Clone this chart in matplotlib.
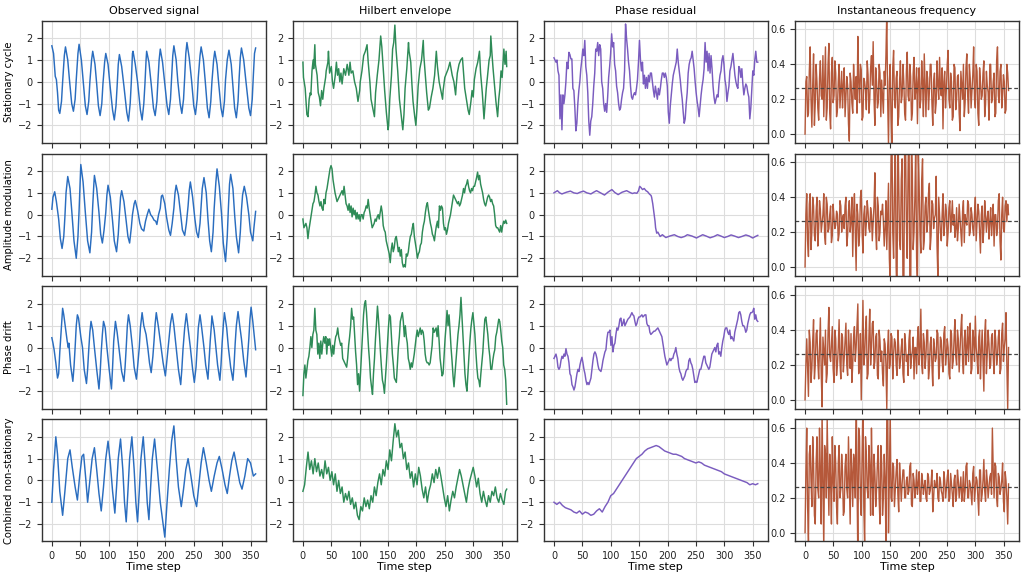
import numpy as np
import matplotlib
matplotlib.use("Agg")
import matplotlib.pyplot as plt

row_labels = ["Stationary cycle", "Amplitude modulation", "Phase drift", "Combined non-stationary"]
col_titles = ["Observed signal", "Hilbert envelope", "Phase residual", "Instantaneous frequency"]
x_ticks = [0, 50, 100, 150, 200, 250, 300, 350]
freq_ref = 0.262

# ---------- Observed signal (t, value) ----------
obs_stationary = [(0,1.65),(3,1.3),(6,0.25),(8,0.1),(10,-0.5),(12,-1.3),(14,-1.45),(17,-0.9),(19,0.0),(22,1.2),
    (24,1.6),(28,1.0),(31,0.1),(35,-1.0),(38,-1.35),(41,-0.8),(43,0.1),(46,1.3),
    (48,1.72),(52,1.0),(55,0.1),(59,-1.1),(62,-1.5),(65,-0.9),(67,0.0),(70,1.0),
    (72,1.4),(76,0.8),(79,-0.1),(82,-1.1),(85,-1.55),(88,-1.0),(90,-0.1),(93,0.9),
    (95,1.3),(99,0.8),(103,-0.3),(107,-1.3),(110,-1.75),(113,-1.1),(115,-0.2),(117,0.8),
    (119,1.25),(123,0.7),(127,-0.2),(132,-1.4),(135,-1.8),(138,-1.0),(140,0.0),(142,1.3),
    (143,1.4),(147,0.8),(151,0.0),(156,-1.3),(159,-1.75),(162,-1.0),(164,-0.1),(166,1.0),
    (167,1.4),(171,0.9),(175,-0.1),(179,-1.2),(182,-1.55),(185,-0.9),(187,0.1),(189,1.0),
    (191,1.5),(195,0.9),(199,-0.1),(203,-1.1),(206,-1.5),(209,-0.8),(211,0.2),(213,1.2),
    (215,1.65),(219,1.0),(222,0.0),(226,-1.0),(229,-1.45),(232,-0.8),(234,0.2),(236,1.3),
    (238,1.8),(242,1.1),(246,0.1),(250,-1.1),(253,-1.5),(256,-0.8),(258,0.2),(261,1.2),
    (263,1.6),(267,1.0),(270,0.1),(274,-1.2),(277,-1.65),(280,-0.9),(282,0.0),(285,1.0),
    (287,1.4),(291,0.8),(294,-0.1),(298,-1.2),(301,-1.6),(304,-0.9),(306,0.1),(309,1.0),
    (312,1.45),(316,0.8),(319,-0.2),(322,-1.2),(325,-1.65),(328,-0.9),(330,0.2),(332,1.1),
    (334,1.55),(338,1.0),(342,0.0),(347,-1.2),(350,-1.55),(353,-0.8),(355,0.3),(357,1.3),(359,1.55)]

obs_ampmod = [(0,0.25),(2,0.8),(5,1.05),(8,0.6),(10,0.2),(12,-0.2),(15,-1.1),(18,-1.55),(21,-1.0),(23,-0.1),(25,1.0),(28,1.75),
    (32,1.2),(35,0.2),(39,-1.2),(43,-2.0),(46,-1.0),(48,0.2),(50,1.6),(51,2.3),
    (55,1.5),(59,0.1),(63,-1.2),(67,-1.75),(70,-0.8),(72,0.4),(74,1.4),(75,1.8),
    (79,1.2),(83,0.1),(86,-0.9),(89,-1.3),(92,-0.7),(95,0.1),(97,0.9),(99,1.35),
    (103,0.8),(107,-0.3),(110,-1.2),(114,-1.7),(117,-0.9),(119,0.0),(121,0.8),(123,1.1),
    (127,0.6),(131,-0.3),(134,-1.0),(137,-1.3),(140,-0.6),(142,0.0),(145,0.5),(147,0.65),
    (151,0.2),(155,-0.4),(158,-0.65),(162,-0.75),(165,-0.3),(168,0.0),(171,0.25),
    (174,0.0),(177,-0.1),(180,-0.25),(183,-0.3),(185,-0.45),(188,0.0),(191,0.3),(193,0.85),(195,0.9),
    (199,0.5),(202,-0.1),(206,-0.7),(209,-0.95),(212,-0.4),(215,0.3),(217,1.0),(219,1.35),
    (223,0.9),(227,0.0),(230,-0.7),(234,-0.95),(237,-0.4),(240,0.4),(242,1.1),(244,1.5),
    (248,0.8),(252,-0.2),(255,-0.8),(258,-1.05),(261,-0.4),(263,0.4),(265,1.2),(268,1.7),
    (272,1.0),(275,-0.2),(278,-1.2),(281,-1.7),(284,-0.8),(286,0.3),(289,1.5),(291,2.1),
    (295,1.3),(299,0.0),(302,-1.3),(306,-2.15),(309,-1.0),(311,0.3),(313,1.4),(315,1.85),
    (319,1.2),(322,0.0),(325,-1.0),(329,-1.75),(332,-0.8),(334,0.2),(336,0.9),(339,1.3),
    (343,0.8),(347,0.0),(350,-0.8),(354,-1.2),(356,-0.6),(359,0.15)]

obs_drift = [(0,0.45),(2,0.2),(4,-0.1),(7,-0.7),(10,-1.4),(12,-1.2),(14,-0.2),(17,1.0),(19,1.8),(21,1.5),(24,0.9),
    (27,0.3),(29,0.0),(30,0.2),(33,-0.8),(37,-1.55),(39,-0.9),(41,0.0),(43,1.0),(45,1.5),(47,1.35),(51,0.5),
    (54,0.0),(57,-1.0),(61,-1.65),(63,-1.0),(65,-0.1),(67,0.7),(69,1.2),(72,0.8),(75,0.0),(79,-1.0),(83,-1.9),
    (85,-1.2),(87,-0.2),(89,0.6),(91,1.2),(94,0.9),(97,0.0),(99,-0.5),(101,-1.0),(105,-1.9),(107,-0.9),(109,0.3),
    (112,1.2),(115,0.7),(119,-0.2),(123,-1.1),(127,-1.55),(129,-0.9),(131,0.0),(133,1.0),(135,1.5),(138,1.0),
    (142,0.0),(145,-0.9),(149,-1.45),(151,-0.9),(154,0.0),(156,0.9),(159,1.6),(162,1.0),(166,0.6),(169,0.0),
    (172,-0.7),(175,-1.15),(178,-0.4),(180,0.3),(182,1.1),(184,1.6),(188,0.9),(192,0.1),(196,-0.7),(200,-1.3),
    (203,-0.5),(206,0.3),(209,1.1),(212,1.55),(215,1.0),(219,0.0),(223,-1.0),(227,-1.7),(229,-1.0),(231,-0.1),
    (234,0.9),(237,1.55),(240,0.9),(244,0.0),(248,-1.0),(251,-1.6),(254,-0.9),(256,0.0),(258,0.9),(261,1.5),
    (264,0.9),(268,0.0),(271,-0.8),(275,-1.45),(277,-0.6),(279,0.3),(281,1.0),(282,1.45),(286,0.8),(289,0.0),
    (292,-0.8),(296,-1.5),(298,-0.8),(300,0.2),(302,1.0),(304,1.6),(308,0.9),(311,0.0),(315,-0.9),(319,-1.5),
    (321,-0.8),(323,0.2),(325,1.0),(328,1.65),(331,1.0),(334,0.4),(338,-0.6),(342,-1.35),(344,-0.7),(347,0.4),
    (349,1.3),(351,1.85),(354,1.2),(357,0.4),(359,-0.1)]

obs_combined = [(0,-1.0),(3,0.5),(7,2.0),(10,1.2),(14,-0.5),(19,-1.6),(23,-0.5),(28,1.0),(32,1.4),(36,0.6),(41,-0.3),
    (45,-0.9),(49,0.2),(53,1.1),(56,1.2),(60,0.0),(63,-1.0),(67,0.0),(71,1.0),(75,1.5),(79,0.5),(83,-0.6),(87,-1.4),
    (91,-0.3),(95,1.0),(99,1.8),(103,0.8),(107,-0.5),(111,-1.5),(114,-0.3),(117,1.0),(121,1.9),(125,0.5),(128,-1.0),
    (131,-1.9),(134,-0.5),(137,1.0),(141,2.0),(145,0.5),(148,-1.0),(151,-1.9),(154,-0.5),(157,1.0),(161,2.0),(165,0.5),
    (168,-1.0),(171,-1.8),(174,-0.3),(177,1.0),(181,1.9),(186,0.5),(191,-1.0),(196,-2.0),(199,-2.6),(203,-1.0),
    (207,0.5),(211,1.8),(215,2.5),(219,1.0),(223,-0.3),(228,-1.2),(232,-0.4),(236,0.5),(240,1.0),(245,0.2),(250,-0.7),
    (255,-1.2),(259,-0.2),(263,0.8),(267,1.5),(272,0.8),(277,0.0),(281,-0.5),(286,0.2),(291,0.8),(295,1.1),(300,0.5),
    (305,-0.2),(309,-0.6),(313,0.2),(317,0.9),(321,1.3),(326,0.6),(331,-0.1),(335,-0.4),(340,0.2),(345,1.0),(350,0.8),
    (355,0.2),(359,0.3)]

# ---------- Hilbert envelope ----------
hil_stationary = [(0,0.9),(1,0.2),(4,-0.3),(7,-1.5),(9,-1.6),(11,-0.8),(13,-0.5),(14,-0.6),(16,0.5),(18,1.0),(19,0.6),
    (21,1.7),(22,0.8),(25,0.3),(27,-0.5),(29,-0.7),(31,-1.1),(33,-0.4),(35,-0.8),(37,-0.3),(40,0.2),(41,0.5),(44,0.9),
    (45,1.4),(47,0.4),(50,0.7),(52,0.0),(54,-0.3),(57,0.3),(59,0.9),(61,0.3),(63,0.6),(65,0.0),(67,0.4),(69,-0.1),
    (72,0.6),(75,0.3),(78,0.8),(81,0.3),(83,0.9),(85,0.4),(88,0.5),(91,0.0),(94,-0.3),(97,-0.9),(100,-0.4),(101,0.0),
    (104,0.5),(107,1.2),(110,1.4),(113,1.7),(115,0.9),(118,0.0),(120,-0.8),(123,-1.2),(126,-1.6),(128,-0.5),(131,0.3),
    (134,1.0),(137,2.1),(139,1.6),(141,0.8),(144,-0.4),(147,-1.4),(150,-2.2),(151,-2.0),(153,-0.8),(156,0.3),(158,1.5),
    (160,1.8),(162,2.6),(164,1.5),(167,0.5),(170,-0.8),(173,-1.5),(176,-2.2),(178,-1.5),(180,-0.3),(183,0.6),(186,1.8),
    (187,1.4),(190,0.9),(192,-0.1),(194,-0.9),(197,-1.6),(199,-2.0),(201,-1.2),(203,-0.2),(206,0.6),(209,1.0),(212,1.9),
    (213,1.2),(216,0.2),(218,-0.5),(221,-1.3),(223,-1.2),(226,-0.7),(229,-0.3),(232,0.3),(235,1.4),(237,0.7),(240,0.0),
    (243,-0.4),(246,-0.8),(247,-0.4),(250,0.2),(253,0.4),(256,0.6),(259,0.9),(261,0.6),(263,0.3),(266,0.0),(269,-0.6),
    (270,-0.2),(272,0.4),(275,0.8),(278,1.0),(281,1.1),(283,0.4),(285,-0.3),(288,-0.8),(291,-1.3),(293,-1.5),(296,-0.9),
    (298,-0.4),(300,-0.7),(302,0.1),(305,0.6),(308,0.9),(311,1.4),(313,0.4),(316,-0.5),(319,-1.7),(321,-1.0),(323,-0.3),
    (325,0.2),(328,1.0),(330,1.2),(331,2.1),(333,1.3),(335,0.6),(338,-0.3),(340,-0.9),(343,-1.6),(345,-0.8),(347,-0.3),
    (349,0.5),(351,0.2),(354,1.5),(356,0.8),(358,1.4),(359,0.7)]

hil_ampmod = [-0.2,-0.6,-0.5,-0.4,-0.6,-1.1,-0.7,-0.4,-0.1,0.2,0.5,0.6,0.9,1.3,1.0,0.9,0.6,0.4,0.6,0.3,0.2,0.7,0.5,1.0,
    1.2,1.5,1.8,2.1,2.25,2.1,1.6,1.3,1.0,0.8,0.6,0.7,0.8,0.9,1.0,1.1,0.9,1.3,0.9,0.5,0.4,0.2,0.5,0.1,0.4,-0.1,0.3,0.0,
    0.2,-0.2,0.1,-0.2,0.0,-0.3,0.0,0.0,-0.2,0.1,0.2,0.4,0.3,0.7,0.3,0.0,-0.3,-0.6,-0.5,-0.4,-0.2,-0.3,-0.1,0.0,-0.2,0.1,
    0.4,0.1,-0.5,-0.7,-0.8,-1.2,-1.4,-1.6,-1.8,-2.2,-1.6,-1.3,-1.7,-1.5,-1.1,-1.0,-1.3,-1.7,-1.5,-1.9,-1.6,-2.2,-2.4,
    -2.3,-2.4,-1.8,-1.9,-1.7,-1.3,-1.0,-0.9,-0.6,-0.4,-1.0,-1.3,-1.6,-2.0,-1.8,-1.7,-1.4,-1.3,-0.8,-0.5,-0.3,0.1,0.4,
    0.55,0.2,-0.1,-0.4,-0.6,-0.9,-1.0,-1.2,-0.8,-0.5,-0.3,-0.6,0.4,0.2,0.4,0.3,-0.4,-0.7,-0.6,-0.9,-0.7,-0.4,-0.2,0.0,
    0.3,0.6,0.9,0.8,0.7,0.6,0.5,0.6,0.4,0.5,0.7,0.9,1.2,1.0,1.3,1.4,1.6,1.3,1.1,1.0,1.2,1.1,1.3,1.3,1.5,1.7,1.95,1.6,
    1.8,1.4,1.2,1.0,0.7,0.5,0.4,0.6,0.8,0.9,0.8,0.6,0.7,0.5,0.4,0.0,-0.5,-0.6,-0.6,-0.7,-0.8,-0.5,-0.8,-0.5,-0.3,-0.4,
    -0.25,-0.4]

hil_drift = [-2.2,-1.2,-0.8,-1.4,-1.0,-0.6,-0.4,0.0,0.5,0.0,0.6,0.8,1.8,0.8,0.6,-0.3,0.2,-0.5,0.3,-0.3,0.2,0.5,0.2,0.5,
    -0.3,0.4,0.1,0.4,0.0,-0.4,0.1,-0.3,0.2,0.5,0.6,0.9,0.5,0.3,0.1,0.2,-0.5,-0.6,-0.7,-0.8,-0.9,-0.5,0.1,0.5,1.0,1.8,
    1.3,1.4,0.6,-0.2,-0.8,-1.7,-1.2,-2.0,-1.1,-0.3,0.6,1.5,2.0,2.15,1.6,0.8,0.0,-0.6,-1.4,-1.8,-2.15,-1.2,-0.5,0.4,1.1,
    1.9,1.3,0.6,-0.2,-0.9,-1.5,-1.7,-2.1,-1.4,-0.7,0.1,0.9,1.5,1.4,0.5,-0.3,-0.8,-1.4,-1.5,-1.6,-0.8,0.0,0.5,1.2,1.4,
    1.6,1.2,0.5,1.0,0.5,0.2,-0.5,-0.7,-1.0,-0.7,-0.9,-0.6,-0.3,0.1,0.5,0.8,0.5,0.7,0.9,0.6,0.8,0.7,0.3,-0.3,-0.6,-0.7,
    -0.7,-0.8,-0.7,-0.3,0.1,0.9,0.7,0.8,0.9,0.5,1.0,0.3,-0.5,-0.9,-1.3,-1.2,-0.4,0.4,1.0,1.7,1.0,1.5,0.8,0.0,-0.6,-1.3,
    -1.8,-1.2,-0.6,0.0,0.6,1.0,1.5,2.3,1.4,0.6,-0.4,-1.2,-1.7,-2.0,-1.2,-0.4,0.3,0.9,1.3,1.6,1.1,0.6,-0.2,-0.9,-1.4,
    -1.5,-1.8,-1.2,-0.7,-0.2,0.6,1.3,1.4,1.0,0.6,0.0,-0.4,-1.0,-1.0,-0.6,-0.3,-0.1,0.5,0.7,1.0,1.3,1.2,0.8,0.3,0.0,
    -0.8,-1.0,-1.5,-2.6]

hil_combined = [(0,-0.5),(3,-0.2),(6,0.6),(9,1.3),(12,0.5),(15,0.9),(18,0.3),(21,1.0),(24,0.4),(27,0.8),(30,0.2),(33,0.5),
    (36,0.1),(39,0.9),(42,0.3),(45,0.6),(48,0.0),(51,0.4),(54,-0.2),(57,0.3),(60,-0.5),(63,0.0),(66,-0.6),(69,-0.3),
    (72,-1.0),(75,-0.6),(78,-0.9),(81,-0.5),(84,-1.1),(87,-0.8),(90,-1.3),(93,-1.0),(96,-1.6),(99,-1.8),(102,-1.2),
    (105,-1.4),(108,-0.8),(111,-1.2),(114,-0.9),(117,-1.3),(120,-0.7),(123,-1.0),(126,-0.3),(129,-0.7),(132,-0.1),
    (135,0.3),(138,-0.2),(141,0.5),(144,0.2),(147,0.9),(150,0.5),(153,1.4),(156,0.9),(159,1.8),(162,2.6),(165,2.0),
    (168,2.3),(171,1.5),(174,1.7),(177,1.0),(180,1.3),(183,0.5),(186,0.8),(189,0.1),(192,0.4),(195,-0.3),(198,0.3),
    (201,-0.2),(204,0.6),(207,0.2),(210,-0.4),(213,-0.8),(216,-0.3),(219,-1.0),(222,-0.5),(225,-0.2),(228,0.3),
    (231,-0.1),(234,0.5),(237,0.1),(240,0.6),(243,0.2),(246,-0.3),(249,-0.8),(252,-1.2),(255,-0.7),(258,-1.4),
    (261,-0.9),(264,-0.5),(267,-0.8),(270,-0.3),(273,0.1),(276,0.5),(279,0.2),(282,-0.2),(285,-0.6),(288,-1.0),
    (291,-0.4),(294,0.0),(297,0.3),(300,0.6),(303,0.2),(306,-0.3),(309,0.1),(312,-0.6),(315,-1.0),(318,-0.5),
    (321,-0.9),(324,-1.2),(327,-0.7),(330,-1.0),(333,-0.5),(336,-0.7),(339,-0.3),(342,-0.8),(345,-1.0),(348,-0.6),
    (351,-0.9),(354,-1.1),(357,-0.5),(359,-0.4)]

# ---------- Phase residual ----------
pr_stationary = [1.1,1.0,0.9,1.0,0.5,0.3,-1.7,-0.6,-2.2,-0.6,-1.0,-0.6,0.0,0.9,0.6,1.35,1.25,1.05,1.05,-0.3,-0.4,-1.2,
    -2.25,-1.9,-1.0,-0.4,0.0,0.6,1.0,1.5,1.2,1.9,0.7,0.3,-0.5,-1.8,-2.45,-1.8,-1.6,-1.0,-0.2,0.4,1.5,1.4,1.8,1.2,1.7,
    1.5,0.0,-0.3,-1.0,-1.35,-1.0,-1.4,-0.7,0.2,0.7,1.3,2.2,1.6,1.8,0.8,0.5,-0.2,-0.5,-1.0,-1.3,-1.2,-0.8,-0.5,-0.3,0.5,
    2.65,2.0,1.5,0.9,0.5,-0.2,-0.7,-0.8,-0.6,-0.5,-0.6,-0.3,0.1,0.9,1.9,1.0,0.5,0.9,-0.1,0.3,-0.3,0.2,-0.3,0.3,0.0,0.4,
    0.4,0.0,-0.4,-0.7,-0.2,-0.5,-0.8,-0.3,-0.6,-0.3,0.1,0.4,0.4,0.2,0.4,0.2,-0.2,-1.4,-1.9,-1.1,-0.6,-0.1,0.3,0.5,0.7,
    0.9,1.5,0.9,0.5,0.1,-0.4,-0.8,-1.4,-1.9,-1.7,-1.0,-0.5,0.4,0.8,1.0,1.1,1.4,1.0,0.6,0.0,-0.5,-0.9,-1.2,-1.6,-1.1,
    -0.6,-0.2,0.1,0.6,1.8,0.9,1.4,0.5,1.3,0.4,1.2,0.6,-0.2,-0.7,-1.0,-0.8,-0.6,-0.7,-0.1,0.3,0.5,1.0,1.2,0.8,0.1,-0.2,
    -0.9,-0.5,-0.2,0.5,0.7,1.0,1.3,0.8,0.3,0.0,-0.2,-0.3,0.7,0.6,0.2,0.6,-0.1,-0.6,-0.3,-0.1,-0.2,-0.5,-0.7,-1.7,-1.2,
    -0.3,0.5,0.3,1.0,1.4,0.9,0.9]

pr_ampmod = [(0,1.0),(6,1.1),(10,1.0),(14,0.95),(22,1.03),(29,1.08),(35,1.0),(41,0.97),(46,1.03),(52,1.08),(58,1.0),
    (65,0.95),(70,1.03),(75,1.1),(82,1.0),(89,0.9),(95,1.03),(102,1.15),(107,1.02),(113,0.92),(120,1.03),(128,1.1),
    (133,1.03),(138,0.97),(142,1.0),(146,0.98),(149,1.1),(151,1.3),(153,1.25),(156,1.15),(159,1.2),(162,1.1),(165,1.05),
    (168,0.95),(171,0.88),(172,0.8),(174,0.5),(176,0.1),(178,-0.3),(179,-0.6),(181,-0.85),(183,-0.8),(185,-0.9),
    (187,-1.0),(191,-0.92),(197,-1.05),(204,-0.98),(212,-0.92),(218,-1.0),(224,-1.05),(230,-1.0),(235,-0.92),
    (243,-0.98),(251,-1.07),(256,-1.0),(262,-0.92),(268,-0.98),(275,-1.06),(282,-1.0),(288,-0.92),(294,-0.98),
    (300,-1.05),(306,-1.0),(312,-0.93),(318,-0.98),(325,-1.05),(331,-1.0),(338,-0.93),(344,-0.98),(350,-1.07),
    (355,-1.0),(359,-0.95)]

pr_drift = [-0.5,-0.4,-0.3,-0.5,-0.9,-1.0,-0.9,-0.6,-0.4,-0.5,-0.3,-0.4,-0.05,-0.3,-0.4,-0.7,-1.2,-1.3,-1.7,-1.8,-1.95,
    -1.8,-1.5,-1.2,-1.0,-1.1,-0.8,-0.6,-0.45,-0.7,-1.0,-1.2,-1.5,-1.7,-1.6,-1.7,-1.55,-1.4,-1.0,-0.6,-0.3,-0.2,-0.3,
    -0.5,-0.8,-1.0,-1.05,-1.1,-0.9,-0.6,-0.4,-0.2,-0.1,0.4,0.7,0.7,0.8,0.1,0.5,-0.2,0.1,0.2,0.6,0.9,0.8,1.0,1.3,1.35,
    1.0,1.1,1.3,1.0,1.1,1.2,1.3,1.35,1.4,1.5,1.6,1.5,1.45,1.2,1.0,1.1,1.3,1.4,1.4,1.45,1.5,1.4,1.45,1.5,1.5,1.1,1.0,
    1.0,0.7,0.6,0.65,0.7,0.75,0.75,0.8,0.85,0.9,0.8,0.7,0.6,0.5,0.2,-0.1,-0.4,-0.6,-0.8,-0.7,-0.6,-0.5,-0.6,-0.5,-0.5,
    -0.3,-0.2,0.0,-0.3,-0.5,-0.9,-1.1,-1.2,-1.4,-1.5,-1.4,-1.3,-1.1,-1.0,-1.0,-0.6,-0.5,-0.7,-0.8,-1.0,-1.3,-1.6,-1.55,
    -1.6,-1.4,-1.2,-1.0,-1.0,-0.8,-0.6,-0.4,-0.4,-0.7,-0.8,-0.9,-1.0,-0.9,-0.6,-0.3,-0.2,-0.1,0.0,-0.2,0.1,0.2,-0.3,
    -0.2,-0.4,0.0,0.3,0.5,0.8,0.9,0.9,0.7,0.6,0.8,0.4,0.5,0.4,0.3,0.7,0.9,1.1,1.3,1.6,1.65,1.5,1.2,1.0,1.0,0.9,0.7,0.8,
    1.1,1.3,1.5,1.6,1.6,1.65,1.8,1.3,1.5,1.25,1.2]

pr_combined = [(0,-1.0),(5,-1.1),(10,-1.0),(15,-1.15),(20,-1.25),(25,-1.3),(30,-1.35),(35,-1.45),(40,-1.5),(45,-1.4),
    (50,-1.55),(55,-1.45),(60,-1.5),(65,-1.6),(70,-1.55),(75,-1.4),(80,-1.3),(85,-1.45),(90,-1.2),(95,-1.0),(100,-0.7),
    (105,-0.6),(110,-0.4),(115,-0.2),(120,0.0),(125,0.2),(130,0.4),(135,0.6),(140,0.8),(145,1.0),(150,1.1),(155,1.2),
    (160,1.35),(165,1.45),(170,1.5),(175,1.55),(180,1.6),(185,1.55),(190,1.45),(195,1.35),(200,1.3),(205,1.25),
    (210,1.2),(215,1.2),(220,1.15),(225,1.1),(230,1.0),(235,0.95),(240,0.9),(245,0.85),(250,0.8),(255,0.85),(260,0.8),
    (265,0.7),(270,0.65),(275,0.6),(280,0.55),(285,0.5),(290,0.45),(295,0.4),(300,0.3),(305,0.25),(310,0.2),(315,0.15),
    (320,0.1),(325,0.05),(330,0.0),(335,-0.05),(340,-0.1),(345,-0.2),(350,-0.15),(355,-0.2),(359,-0.15)]

# ---------- Instantaneous frequency: readings at t = 0, 3, 6, ... (a) and t = 1.5, 4.5, ... (b) ----------
if_stationary = [0.00,0.33,0.12,0.50,0.04,0.46,0.18,0.30,0.08,0.42,
    0.20,0.10,0.50,0.15,0.52,0.03,0.44,0.22,0.35,0.14,
    0.40,0.25,0.15,0.38,0.21,0.28,-0.04,0.30,0.12,0.27,
    0.33,0.56,0.18,0.37,0.10,0.30,0.14,0.34,0.20,0.45,
    0.53,0.05,0.30,0.18,0.35,0.31,0.12,0.28,0.70,-0.06,
    0.40,-0.08,0.48,0.15,0.36,0.10,0.42,0.22,0.30,0.08,
    0.47,0.19,0.33,0.12,0.44,0.25,0.06,0.38,0.20,0.30,
    0.46,0.10,0.32,0.24,0.40,0.05,0.35,0.18,0.28,0.44,
    0.22,0.03,0.36,0.26,0.48,0.15,0.30,0.10,0.38,0.20,
    0.34,0.02,0.28,0.40,0.18,0.46,0.12,0.32,0.25,0.50,
    0.15,0.36,0.05,0.30,0.22,0.42,0.17,0.28,0.08,0.40,
    0.20,0.35,0.12,0.50,0.18,0.40,0.22,0.30,0.14,0.35]
if_stationary_b = [0.30,0.10,0.36,0.20,0.28,0.05,0.40,0.15,0.32,0.22,
    0.45,0.30,0.08,0.40,0.12,0.35,0.18,0.42,0.10,0.30,
    0.15,0.36,0.28,0.10,0.33,0.06,0.35,0.18,0.40,0.20,
    0.12,0.30,0.40,0.08,0.32,0.25,0.42,0.12,0.38,0.28,
    0.20,0.38,0.15,0.40,0.10,0.22,0.36,0.45,0.20,0.30,
    0.10,0.38,0.20,0.32,0.05,0.30,0.18,0.40,0.12,0.36,
    0.22,0.40,0.08,0.35,0.20,0.38,0.30,0.15,0.42,0.10,
    0.28,0.36,0.14,0.40,0.18,0.30,0.12,0.42,0.20,0.26,
    0.38,0.30,0.15,0.40,0.20,0.35,0.08,0.40,0.14,0.33,
    0.12,0.36,0.20,0.10,0.38,0.22,0.40,0.15,0.34,0.20,
    0.40,0.12,0.38,0.20,0.35,0.10,0.36,0.24,0.40,0.18,
    0.30,0.10,0.42,0.22,0.36,0.15,0.34,0.12,0.40,0.25]

if_ampmod = [0.00,0.42,0.06,0.42,0.20,0.35,0.15,0.40,0.22,0.33,
    0.25,0.42,0.13,0.36,0.22,0.35,0.18,0.28,0.24,0.30,
    0.19,0.35,0.28,0.22,0.40,0.18,0.38,0.26,0.06,0.42,
    -0.02,0.30,0.18,0.44,0.08,0.35,0.25,0.32,0.20,0.30,
    0.26,0.54,0.10,0.35,0.20,0.30,0.26,0.22,0.10,0.48,
    -0.10,0.80,0.05,0.70,-0.20,0.48,0.10,0.62,-0.15,0.75,
    0.05,0.90,-0.25,0.55,0.20,0.72,-0.10,0.46,0.08,0.62,
    0.15,0.40,0.25,0.48,0.18,0.36,0.28,0.52,-0.06,0.30,
    0.15,0.42,0.24,0.32,0.20,0.38,0.28,0.24,0.17,0.34,
    0.22,0.28,0.12,0.38,0.30,0.24,0.36,0.20,0.30,0.18,
    0.40,0.25,0.32,0.08,0.35,0.22,0.30,0.28,0.16,0.34,
    0.26,0.12,0.30,0.22,0.42,0.04,0.40,0.20,0.38,0.36]
if_ampmod_b = [0.30,0.15,0.36,0.10,0.40,0.18,0.32,0.12,0.38,0.20,
    0.30,0.18,0.40,0.20,0.30,0.14,0.36,0.22,0.32,0.15,
    0.38,0.20,0.30,0.35,0.12,0.32,0.20,0.40,0.30,0.20,
    0.36,0.12,0.40,0.20,0.30,0.18,0.38,0.22,0.34,0.15,
    0.35,0.20,0.40,0.15,0.32,0.36,0.12,0.38,0.30,0.05,
    0.60,0.20,0.45,0.00,0.85,0.15,0.50,-0.10,0.70,0.25,
    0.55,-0.05,0.75,0.10,0.40,0.05,0.65,0.20,0.50,0.10,
    0.35,0.20,0.42,0.10,0.38,0.22,0.30,0.12,0.40,0.20,
    0.30,0.18,0.36,0.12,0.34,0.20,0.38,0.30,0.22,0.15,
    0.36,0.20,0.32,0.14,0.26,0.38,0.18,0.34,0.22,0.30,
    0.15,0.36,0.20,0.30,0.14,0.38,0.20,0.32,0.26,0.18,
    0.36,0.30,0.18,0.38,0.15,0.30,0.22,0.35,0.26,0.30]

if_drift = [0.00,0.35,0.02,0.33,0.18,0.46,0.20,0.40,0.12,0.47,
    -0.04,0.28,0.40,0.15,0.53,0.22,0.42,0.10,0.35,0.20,
    0.46,0.12,0.36,0.24,0.44,0.14,0.30,0.38,0.20,0.42,
    0.30,0.55,0.18,0.00,0.57,0.25,0.48,0.15,0.52,0.30,
    0.45,0.22,0.38,0.12,0.34,0.28,0.08,0.32,-0.05,0.40,
    0.20,0.36,0.26,0.33,0.14,0.30,0.22,0.35,0.10,0.32,
    0.26,0.34,0.18,0.28,0.12,0.30,0.35,0.20,0.52,0.15,
    0.33,0.25,0.40,0.18,0.36,0.08,0.30,0.24,0.38,0.20,
    0.34,0.16,0.42,0.26,0.30,0.12,0.38,0.22,0.46,0.20,
    0.35,0.28,0.49,0.15,0.40,0.30,0.22,0.44,0.18,0.35,
    0.48,0.24,0.36,0.12,0.40,0.05,0.46,0.26,0.32,0.20,
    0.38,0.15,0.34,0.25,0.40,0.18,0.44,0.30,0.50,-0.05]
if_drift_b = [0.20,0.18,0.40,0.10,0.34,0.12,0.38,0.22,0.30,0.15,
    0.36,0.20,0.10,0.38,0.25,0.32,0.18,0.40,0.14,0.30,
    0.22,0.38,0.16,0.34,0.20,0.40,0.18,0.10,0.36,0.22,
    0.42,0.15,0.38,0.30,0.20,0.40,0.12,0.36,0.20,0.44,
    0.18,0.36,0.14,0.40,0.22,0.15,0.35,0.20,0.30,0.18,
    0.38,0.12,0.35,0.20,0.40,0.18,0.30,0.15,0.38,0.22,
    0.14,0.40,0.24,0.36,0.30,0.15,0.42,0.30,0.20,0.38,
    0.18,0.40,0.12,0.32,0.20,0.35,0.22,0.40,0.12,0.36,
    0.22,0.38,0.20,0.35,0.15,0.40,0.18,0.35,0.25,0.40,
    0.16,0.40,0.22,0.35,0.20,0.42,0.36,0.15,0.40,0.22,
    0.30,0.15,0.40,0.28,0.22,0.38,0.15,0.40,0.18,0.36,
    0.24,0.40,0.20,0.36,0.15,0.38,0.22,0.35,0.20,0.30]

if_combined = [0.00,0.60,-0.05,0.50,0.15,0.40,0.05,0.55,0.20,0.35,
    0.70,-0.10,0.45,0.65,0.10,0.30,0.55,0.18,0.40,0.05,
    0.50,0.25,0.35,0.12,0.45,0.20,0.30,0.48,0.15,0.40,
    0.85,-0.15,0.55,0.10,0.75,-0.08,0.45,0.20,0.38,0.60,
    0.10,0.35,0.25,0.50,0.05,0.40,0.20,0.30,0.65,0.00,
    0.70,0.18,0.38,0.25,0.42,0.12,0.30,0.28,0.36,0.20,
    0.32,0.24,0.40,0.15,0.30,0.26,0.22,0.35,0.18,0.30,
    0.27,0.20,0.34,0.22,0.28,0.12,0.30,0.26,0.20,0.32,
    0.24,0.18,0.30,0.25,0.36,0.20,0.28,0.15,0.33,0.22,
    0.30,0.26,0.18,0.35,0.24,0.40,0.20,0.28,0.16,0.38,
    0.25,0.30,0.10,0.36,0.22,0.42,0.18,0.30,0.26,0.34,
    0.60,0.20,0.38,0.15,0.32,0.25,0.40,0.12,0.30,0.05]
if_combined_b = [0.35,0.15,0.45,0.30,0.55,0.10,0.40,0.25,0.60,0.05,
    0.30,0.50,0.20,0.35,0.45,0.05,0.30,0.50,0.15,0.40,
    0.20,0.45,0.10,0.38,0.25,0.55,0.05,0.35,0.45,0.20,
    0.30,0.60,0.20,0.45,0.15,0.55,0.25,0.50,0.10,0.30,
    0.45,0.15,0.40,0.20,0.50,0.10,0.45,-0.05,0.80,0.30,
    0.20,0.40,0.15,0.35,0.22,0.40,0.18,0.36,0.20,0.30,
    0.22,0.38,0.16,0.34,0.20,0.36,0.28,0.18,0.34,0.22,
    0.30,0.18,0.32,0.24,0.36,0.20,0.26,0.34,0.18,0.30,
    0.22,0.35,0.20,0.32,0.18,0.34,0.22,0.30,0.18,0.36,
    0.20,0.32,0.24,0.18,0.38,0.20,0.30,0.22,0.34,0.18,
    0.32,0.20,0.36,0.18,0.30,0.24,0.36,0.20,0.32,0.22,
    0.36,0.40,0.20,0.34,0.22,0.30,0.18,0.35,0.20,0.28]

colors = ["#2a6dbf", "#2e8b57", "#7a5cbf", "#b5583a"]


def as_xy(series):
    if isinstance(series[0], tuple):
        t, v = zip(*series)
        return np.array(t, float), np.array(v, float)
    v = np.array(series, float)
    return np.linspace(0, 359, len(v)), v


def as_freq(a, b):
    ta = np.arange(len(a)) * 3.0
    tb = np.arange(len(b)) * 3.0 + 1.5
    t = np.concatenate([ta, tb])
    v = np.concatenate([np.array(a, float), np.array(b, float)])
    order = np.argsort(t)
    return t[order], v[order]


grid = [
    [obs_stationary, hil_stationary, pr_stationary, (if_stationary, if_stationary_b)],
    [obs_ampmod, hil_ampmod, pr_ampmod, (if_ampmod, if_ampmod_b)],
    [obs_drift, hil_drift, pr_drift, (if_drift, if_drift_b)],
    [obs_combined, hil_combined, pr_combined, (if_combined, if_combined_b)],
]

plt.rcParams['font.family'] = ['DejaVu Sans']
fig, axes = plt.subplots(4, 4, figsize=(10.26, 5.79), dpi=100, sharex=True)
fig.subplots_adjust(left=0.0406, right=0.9932, top=0.9642, bottom=0.0648, wspace=0.12, hspace=0.088)

for r in range(4):
    for c in range(4):
        ax = axes[r, c]
        if c < 3:
            x, y = as_xy(grid[r][c])
            ax.plot(x, y, color=colors[c], lw=1.05)
            ax.set_ylim(-2.8, 2.8)
            ax.set_yticks([-2, -1, 0, 1, 2])
        else:
            x, y = as_freq(*grid[r][c])
            ax.plot(x, y, color=colors[c], lw=1.0)
            ax.axhline(freq_ref, color="#444444", lw=0.9, ls="--", dashes=(3, 2))
            ax.set_ylim(-0.05, 0.65)
            ax.set_yticks([0.0, 0.2, 0.4, 0.6])
        ax.set_xticks(x_ticks)
        ax.grid(True, color="#dddddd", lw=0.8)
        ax.set_axisbelow(True)
        ax.tick_params(labelsize=7, length=3.5, width=0.8, color="#333333", labelcolor="#222222", pad=3)
        for s in ax.spines.values():
            s.set_color("#333333")
            s.set_linewidth(1.0)
        if r == 0:
            ax.set_title(col_titles[c], fontsize=8, pad=5)
        if c == 0:
            ax.set_ylabel(row_labels[r], fontsize=7.2, labelpad=3)
        if r == 3:
            ax.set_xlabel("Time step", fontsize=8, labelpad=1)

axes[0, 0].set_xlim(-17.95, 376.95)
fig.savefig("out.png", dpi=100)
